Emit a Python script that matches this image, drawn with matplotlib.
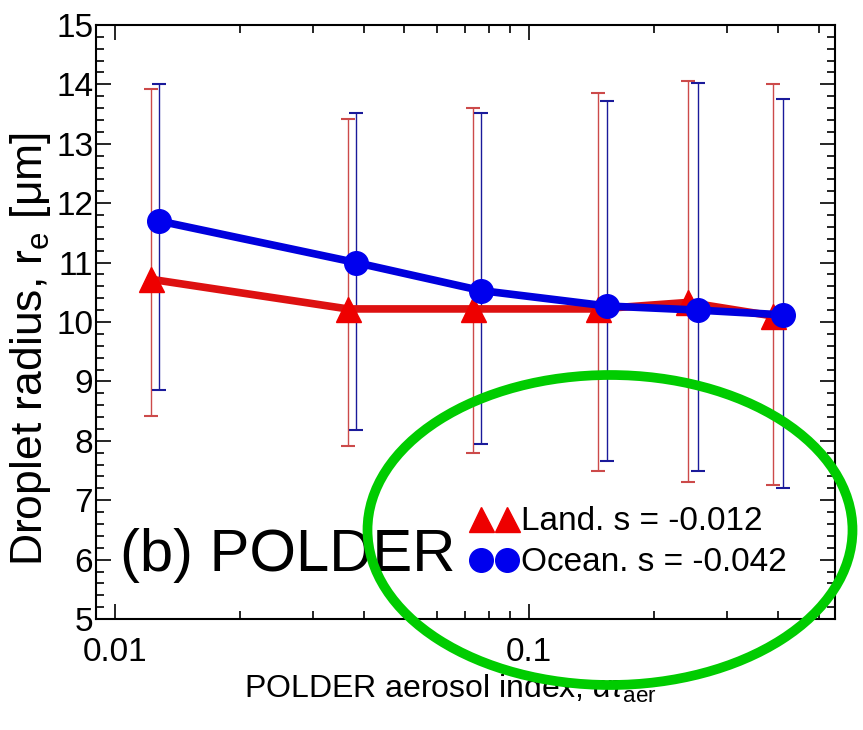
import matplotlib
matplotlib.use("Agg")
import matplotlib.pyplot as plt
from matplotlib.patches import Ellipse
from matplotlib.ticker import LogLocator, MultipleLocator, FixedFormatter, FixedLocator

plt.rcParams['font.family'] = ['Liberation Sans', 'DejaVu Sans']
plt.rcParams['mathtext.fontset'] = 'custom'
plt.rcParams['mathtext.rm'] = 'Liberation Sans'
plt.rcParams['mathtext.it'] = 'Liberation Sans:italic'

# land (red triangles)
land_x = [0.0122, 0.0365, 0.0731, 0.147, 0.2425, 0.389]
land_y = [10.72, 10.22, 10.22, 10.22, 10.33, 10.10]
land_lo = [8.42, 7.91, 7.80, 7.50, 7.31, 7.25]
land_hi = [13.92, 13.42, 13.60, 13.86, 14.05, 14.00]

# ocean (blue circles)
ocean_x = [0.0128, 0.0382, 0.0764, 0.154, 0.2564, 0.411]
ocean_y = [11.70, 11.00, 10.53, 10.27, 10.20, 10.12]
ocean_lo = [8.85, 8.19, 7.94, 7.66, 7.50, 7.20]
ocean_hi = [14.00, 13.52, 13.52, 13.72, 14.03, 13.75]

labels = ["Land. s = -0.012", "Ocean. s = -0.042"]

fig = plt.figure(figsize=(8.63, 7.3), dpi=100)
ax = fig.add_axes([0.1112, 0.152, 0.8564, 0.8138])

land_err = [[y - lo for y, lo in zip(land_y, land_lo)],
            [hi - y for y, hi in zip(land_y, land_hi)]]
ocean_err = [[y - lo for y, lo in zip(ocean_y, ocean_lo)],
             [hi - y for y, hi in zip(ocean_y, ocean_hi)]]

ax.errorbar(land_x, land_y, yerr=land_err, fmt='none', ecolor='#cc4a4a',
            elinewidth=1.0, capsize=5, capthick=1.5)
ax.errorbar(ocean_x, ocean_y, yerr=ocean_err, fmt='none', ecolor='#1a1a9a',
            elinewidth=1.0, capsize=5, capthick=1.5)
ax.plot(land_x, land_y, color='#dd1111', lw=5.5, marker='^', ms=18,
        mec='#ee0000', mfc='#ee0000', label=labels[0])
ax.plot(ocean_x, ocean_y, color='#0000dd', lw=5.5, marker='o', ms=17,
        mec='#0000ee', mfc='#0000ee', label=labels[1])

ax.set_xscale('log')
ax.set_xlim(0.0090, 0.548)
ax.set_ylim(5, 15)

ax.xaxis.set_major_locator(FixedLocator([0.01, 0.1]))
ax.xaxis.set_major_formatter(FixedFormatter(["0.01", "0.1"]))
ax.xaxis.set_minor_locator(LogLocator(base=10, subs=range(2, 10)))
ax.xaxis.set_minor_formatter(FixedFormatter([]))
ax.yaxis.set_major_locator(MultipleLocator(1))
ax.yaxis.set_minor_locator(MultipleLocator(0.2))

ax.tick_params(which='both', direction='in', top=True, right=True,
               labelsize=24, width=1.2)
ax.tick_params(which='major', length=11)
ax.tick_params(which='minor', length=6)
ax.tick_params(axis='x', pad=13)
ax.tick_params(axis='y', pad=2)
for s in ax.spines.values():
    s.set_linewidth(1.5)

ax.set_xlabel(r"POLDER aerosol index, $\alpha\tau_{\rm aer}$", fontsize=23)
ax.set_ylabel(r"Droplet radius, r$_{\rm e}$ [μm]", fontsize=32)
ax.xaxis.set_label_coords(0.48, -0.09)
ax.yaxis.set_label_coords(-0.058, 0.455)

ax.text(0.032, 0.06, "(b) POLDER", transform=ax.transAxes, fontsize=43,
        ha='left', va='bottom')

ax.legend(loc='lower left', bbox_to_anchor=(0.48, 0.035), numpoints=2,
          frameon=False, fontsize=24, handlelength=1.4, handletextpad=0.1,
          labelspacing=0.3, borderpad=0.1, markerscale=1.0)
for h in ax.get_legend().legend_handles:
    h.set_linestyle('none')

# green highlight ellipse (drawn in figure pixel coordinates)
ell = Ellipse((610 / 863, 1 - 530 / 730), 485 / 863, 310 / 730,
              transform=fig.transFigure, fill=False, edgecolor='#00cc00',
              lw=7, clip_on=False, zorder=10)
fig.patches.append(ell)

fig.savefig("out.png", dpi=100)
